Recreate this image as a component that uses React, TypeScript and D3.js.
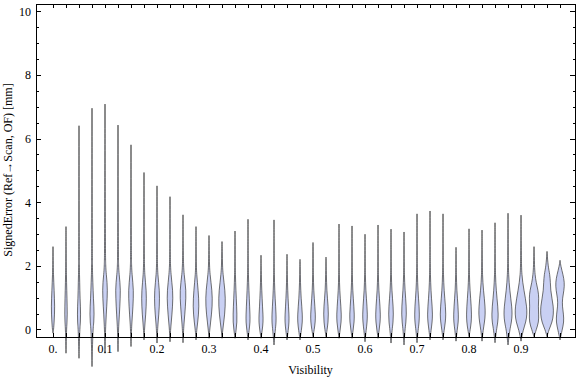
import React from "react";
import * as d3 from "d3";

// Visibility bin centres (one violin each)
const visibility = [
  0, 0.025, 0.05, 0.075, 0.1, 0.125, 0.15, 0.175, 0.2, 0.225,
  0.25, 0.275, 0.3, 0.325, 0.35, 0.375, 0.4, 0.425, 0.45, 0.475,
  0.5, 0.525, 0.55, 0.575, 0.6, 0.625, 0.65, 0.675, 0.7, 0.725,
  0.75, 0.775, 0.8, 0.825, 0.85, 0.875, 0.9, 0.925, 0.95, 0.975,
];

// max / min signed error per bin [mm]
const maxError = [
  2.62, 3.25, 6.42, 6.97, 7.1, 6.44, 5.82, 4.95, 4.53, 4.19,
  3.62, 3.25, 2.97, 2.78, 3.11, 3.48, 2.35, 3.46, 2.38, 2.22,
  2.75, 2.29, 3.33, 3.27, 3.01, 3.3, 3.17, 3.08, 3.65, 3.74,
  3.65, 2.6, 3.18, 3.14, 3.37, 3.67, 3.61, 2.62, 2.47, 2.19,
];
const minError = [
  -0.1, -0.73, -0.89, -1.15, -0.73, -0.68, -0.52, -0.31, -0.41, -0.37,
  -0.4, -0.31, -0.26, -0.26, -0.26, -0.31, -0.26, -0.47, -0.31, -0.31,
  -0.21, -0.21, -0.26, -0.26, -0.37, -0.26, -0.41, -0.47, -0.4, -0.31,
  -0.31, -0.35, -0.21, -0.35, -0.4, -0.47, -0.35, -0.21, -0.21, -0.31,
];

// relative density at these error levels
const densityLevels = [0, 0.25, 0.5, 0.75, 1, 1.25, 1.5, 1.75, 2, 2.5];
const density = [
  [0.08, 0.16, 0.22, 0.24, 0.2, 0.16, 0.11, 0.07, 0.04, 0.02],
  [0.07, 0.15, 0.18, 0.16, 0.14, 0.11, 0.08, 0.06, 0.04, 0.02],
  [0.1, 0.21, 0.23, 0.2, 0.15, 0.12, 0.1, 0.07, 0.05, 0.03],
  [0.12, 0.27, 0.3, 0.27, 0.2, 0.16, 0.12, 0.08, 0.06, 0.04],
  [0.07, 0.13, 0.18, 0.25, 0.31, 0.34, 0.3, 0.18, 0.1, 0.05],
  [0.07, 0.13, 0.2, 0.26, 0.31, 0.34, 0.28, 0.16, 0.08, 0.04],
  [0.07, 0.13, 0.21, 0.28, 0.33, 0.34, 0.26, 0.15, 0.08, 0.04],
  [0.07, 0.15, 0.25, 0.31, 0.34, 0.31, 0.21, 0.11, 0.07, 0.03],
  [0.08, 0.16, 0.26, 0.33, 0.36, 0.33, 0.23, 0.12, 0.07, 0.03],
  [0.08, 0.18, 0.28, 0.36, 0.41, 0.38, 0.26, 0.15, 0.07, 0.03],
  [0.08, 0.16, 0.26, 0.34, 0.41, 0.41, 0.3, 0.16, 0.08, 0.03],
  [0.1, 0.25, 0.36, 0.41, 0.38, 0.3, 0.2, 0.1, 0.05, 0.02],
  [0.1, 0.23, 0.36, 0.45, 0.47, 0.41, 0.28, 0.15, 0.07, 0.03],
  [0.1, 0.25, 0.38, 0.46, 0.47, 0.41, 0.28, 0.15, 0.07, 0.03],
  [0.16, 0.28, 0.27, 0.23, 0.18, 0.13, 0.09, 0.06, 0.03, 0.02],
  [0.16, 0.3, 0.28, 0.23, 0.18, 0.13, 0.09, 0.06, 0.04, 0.02],
  [0.18, 0.31, 0.28, 0.21, 0.16, 0.11, 0.07, 0.05, 0.02, 0.01],
  [0.18, 0.31, 0.29, 0.23, 0.16, 0.11, 0.07, 0.05, 0.03, 0.02],
  [0.18, 0.3, 0.28, 0.21, 0.15, 0.1, 0.07, 0.04, 0.02, 0.01],
  [0.2, 0.34, 0.33, 0.25, 0.16, 0.11, 0.07, 0.04, 0.02, 0.01],
  [0.16, 0.33, 0.34, 0.26, 0.18, 0.11, 0.07, 0.05, 0.03, 0.02],
  [0.15, 0.3, 0.34, 0.3, 0.2, 0.12, 0.08, 0.05, 0.02, 0.01],
  [0.16, 0.31, 0.33, 0.26, 0.18, 0.11, 0.07, 0.05, 0.03, 0.02],
  [0.16, 0.31, 0.33, 0.26, 0.18, 0.11, 0.07, 0.05, 0.03, 0.02],
  [0.16, 0.31, 0.34, 0.28, 0.2, 0.12, 0.08, 0.05, 0.03, 0.02],
  [0.16, 0.31, 0.34, 0.28, 0.2, 0.12, 0.08, 0.05, 0.03, 0.02],
  [0.15, 0.3, 0.34, 0.3, 0.21, 0.13, 0.08, 0.05, 0.03, 0.02],
  [0.13, 0.28, 0.34, 0.31, 0.23, 0.15, 0.09, 0.06, 0.03, 0.02],
  [0.15, 0.31, 0.34, 0.3, 0.21, 0.14, 0.09, 0.06, 0.04, 0.02],
  [0.15, 0.31, 0.36, 0.3, 0.21, 0.14, 0.09, 0.06, 0.04, 0.02],
  [0.16, 0.34, 0.41, 0.34, 0.25, 0.16, 0.1, 0.07, 0.04, 0.02],
  [0.16, 0.33, 0.34, 0.28, 0.2, 0.12, 0.08, 0.05, 0.03, 0.02],
  [0.16, 0.33, 0.36, 0.31, 0.23, 0.15, 0.09, 0.06, 0.04, 0.02],
  [0.16, 0.36, 0.47, 0.43, 0.33, 0.21, 0.12, 0.07, 0.05, 0.02],
  [0.2, 0.41, 0.47, 0.39, 0.28, 0.18, 0.11, 0.07, 0.04, 0.02],
  [0.24, 0.5, 0.6, 0.53, 0.39, 0.26, 0.15, 0.09, 0.05, 0.03],
  [0.3, 0.7, 0.86, 0.8, 0.62, 0.42, 0.24, 0.12, 0.07, 0.04],
  [0.3, 0.68, 0.66, 0.6, 0.7, 0.58, 0.3, 0.14, 0.07, 0.04],
  [0.25, 0.75, 0.93, 0.9, 0.7, 0.52, 0.48, 0.4, 0.15, 0.03],
  [0.3, 0.56, 0.5, 0.32, 0.34, 0.58, 0.64, 0.42, 0.12, 0.03],
];

const xTickValues = [0, 0.1, 0.2, 0.3, 0.4, 0.5, 0.6, 0.7, 0.8, 0.9];
const xTickLabels = ["0.", "0.1", "0.2", "0.3", "0.4", "0.5", "0.6", "0.7", "0.8", "0.9"];
const yTickValues = [0, 2, 4, 6, 8, 10];
const yMinorValues = [0, 0.5, 1, 1.5, 2, 2.5, 3, 3.5, 4, 4.5, 5, 5.5, 6, 6.5, 7, 7.5, 8, 8.5, 9, 9.5, 10];

const W = 576;
const H = 377;
const left = 36, right = 575, top = 4, bottom = 337;

type P = { v: number; d: number };

export default function App() {
  const x = d3.scaleLinear().domain([-0.0327, 1.0038]).range([left, right]);
  const y = d3.scaleLinear().domain([-0.22, 10.245]).range([bottom, top]);
  const w = d3.scaleLinear().domain([0, 1]).range([0, 7]);
  const font = "'Liberation Serif', 'Times New Roman', serif";

  const violins = visibility.map((vx, i) => {
    const cx = x(vx);
    const pts: P[] = [{ v: minError[i], d: 0 }];
    densityLevels.forEach((lv, k) => {
      if (lv > minError[i] && lv < maxError[i] - 0.15) pts.push({ v: lv, d: density[i][k] });
    });
    pts.push({ v: maxError[i], d: 0 });
    const area = d3
      .area<P>()
      .y((p) => y(p.v))
      .x0((p) => cx - w(p.d))
      .x1((p) => cx + w(p.d))
      .curve(d3.curveBasis);
    return area(pts) || "";
  });

  return (
    <svg
      width={W}
      height={H}
      style={{ position: "absolute", left: 0, top: 0, background: "#fff" }}
      fontFamily={font}
    >
      <rect x={0} y={0} width={W} height={H} fill="#fff" />
      {violins.map((d, i) => (
        <path
          key={i}
          d={d}
          fill="#c9d0f3"
          stroke="#3a3a3a"
          strokeOpacity={0.8}
          strokeWidth={0.9}
          strokeLinejoin="round"
        />
      ))}
      {/* frame */}
      <rect x={left} y={top} width={right - left} height={bottom - top} fill="none" stroke="#000" strokeWidth={1} shapeRendering="crispEdges" />
      {/* top and bottom ticks at every bin */}
      {visibility.map((vx, i) => (
        <g key={"t" + i} shapeRendering="crispEdges">
          <line x1={x(vx)} x2={x(vx)} y1={top} y2={top + 4} stroke="#000" />
          <line x1={x(vx)} x2={x(vx)} y1={bottom} y2={bottom - 4} stroke="#000" />
        </g>
      ))}
      {/* y ticks */}
      {yMinorValues.map((v, i) => {
        const major = v % 2 === 0;
        const len = major ? 5 : 2.5;
        return (
          <g key={"y" + i} shapeRendering="crispEdges">
            <line x1={left} x2={left + len} y1={y(v)} y2={y(v)} stroke="#000" />
            <line x1={right} x2={right - len} y1={y(v)} y2={y(v)} stroke="#000" />
          </g>
        );
      })}
      {yTickValues.map((v) => (
        <text key={"yl" + v} x={31} y={y(v) + 4} textAnchor="end" fontSize={12} fill="#000">
          {v}
        </text>
      ))}
      {xTickValues.map((v, i) => (
        <text key={"xl" + v} x={x(v)} y={353} textAnchor="middle" fontSize={12} fill="#000">
          {xTickLabels[i]}
        </text>
      ))}
      <text x={(left + right) / 2 + 5} y={374} textAnchor="middle" fontSize={12} fill="#000">
        Visibility
      </text>
      <text
        transform={`translate(12, ${170}) rotate(-90)`}
        textAnchor="middle"
        fontSize={12}
        fill="#000"
      >
        SignedError (Ref→Scan, OF) [mm]
      </text>
    </svg>
  );
}
